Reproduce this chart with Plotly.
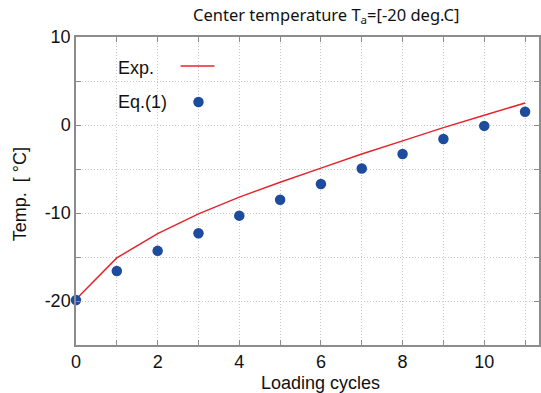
import plotly.graph_objects as go

cycles = [0, 1, 2, 3, 4, 5, 6, 7, 8, 9, 10, 11]
exp_temp = [-19.8, -15.1, -12.35, -10.1, -8.2, -6.5, -4.9, -3.3, -1.8, -0.3, 1.1, 2.5]
eq1_temp = [-19.9, -16.6, -14.3, -12.3, -10.3, -8.5, -6.7, -4.95, -3.3, -1.6, -0.1, 1.5]

x_tickvals = [0, 2, 4, 6, 8, 10]
x_ticktext = ["0", "2", "4", "6", "8", "10"]
x_minorvals = [1, 3, 5, 7, 9, 11]
y_tickvals = [-20, -10, 0, 10]
y_ticktext = ["-20", "-10", "0", "10"]
y_minorvals = [-25, -15, -5, 5]

W, H = 541, 393
L, R, T, B = 76, 0, 37, 48
pw, ph = W - L - R, H - T - B

def px(x):
    return (x - L) / pw

def py(y):
    return (H - B - y) / ph

fig = go.Figure()
fig.add_trace(go.Scatter(x=cycles, y=exp_temp, mode="lines", name="Exp.",
                         line=dict(color="#e8222b", width=1.5), cliponaxis=False))
fig.add_trace(go.Scatter(x=cycles, y=eq1_temp, mode="markers", name="Eq.(1)",
                         marker=dict(color="#1d4c9f", size=10.5), cliponaxis=False))

grid_style = dict(showgrid=True, gridcolor="#c8c8c8", gridwidth=1, griddash="1px,2px")
tick_style = dict(ticks="inside", ticklen=5, tickcolor="#8c8c8c", tickwidth=1)
axis_common = dict(showline=True, linecolor="#8c8c8c", linewidth=1.5, mirror="ticks",
                   zeroline=False, tickfont=dict(family="Liberation Sans, Arial", size=18, color="#111"),
                   **tick_style, **grid_style)

fig.update_xaxes(range=[0, pw / 41.0], tickmode="array", tickvals=x_tickvals, ticktext=x_ticktext,
                 minor=dict(tickmode="array", tickvals=x_minorvals, **tick_style, **grid_style),
                 **axis_common)
fig.update_yaxes(range=[-25, 10], tickmode="array", tickvals=y_tickvals, ticktext=y_ticktext,
                 minor=dict(tickmode="array", tickvals=y_minorvals, **tick_style, **grid_style),
                 **axis_common)

font_main = "Liberation Sans, Arial"
annotations = [
    dict(text="Center temperature T<sub>a</sub>=[-20 deg.C]", x=px(191), y=py(15), xref="paper", yref="paper",
         xanchor="left", yanchor="middle", showarrow=False,
         font=dict(family="Noto Sans", size=16.5, color="#111")),
    dict(text="Temp.  [ °C]", x=px(20), y=py(194), xref="paper", yref="paper", textangle=-90,
         xanchor="center", yanchor="middle", showarrow=False,
         font=dict(family=font_main, size=18, color="#111")),
    dict(text="Loading cycles", x=px(322), y=py(383), xref="paper", yref="paper",
         xanchor="center", yanchor="middle", showarrow=False,
         font=dict(family=font_main, size=18, color="#111")),
    dict(text="Exp.", x=px(116), y=py(68), xref="paper", yref="paper",
         xanchor="left", yanchor="middle", showarrow=False,
         font=dict(family=font_main, size=18, color="#111")),
    dict(text="Eq.(1)", x=px(116), y=py(102), xref="paper", yref="paper",
         xanchor="left", yanchor="middle", showarrow=False,
         font=dict(family=font_main, size=18, color="#111")),
]

shapes = [
    dict(type="line", xref="paper", yref="paper", x0=px(181), x1=px(215), y0=py(66), y1=py(66),
         line=dict(color="#e8222b", width=1.5)),
    dict(type="circle", xref="paper", yref="paper", xsizemode="pixel", ysizemode="pixel",
         xanchor=px(199), yanchor=py(102), x0=-5.25, x1=5.25, y0=-5.25, y1=5.25,
         fillcolor="#1d4c9f", line=dict(width=0)),
]

fig.update_layout(width=W, height=H, margin=dict(l=L, r=R, t=T, b=B, pad=0),
                  plot_bgcolor="white", paper_bgcolor="white", showlegend=False,
                  annotations=annotations, shapes=shapes)

fig.write_html("out.html")
